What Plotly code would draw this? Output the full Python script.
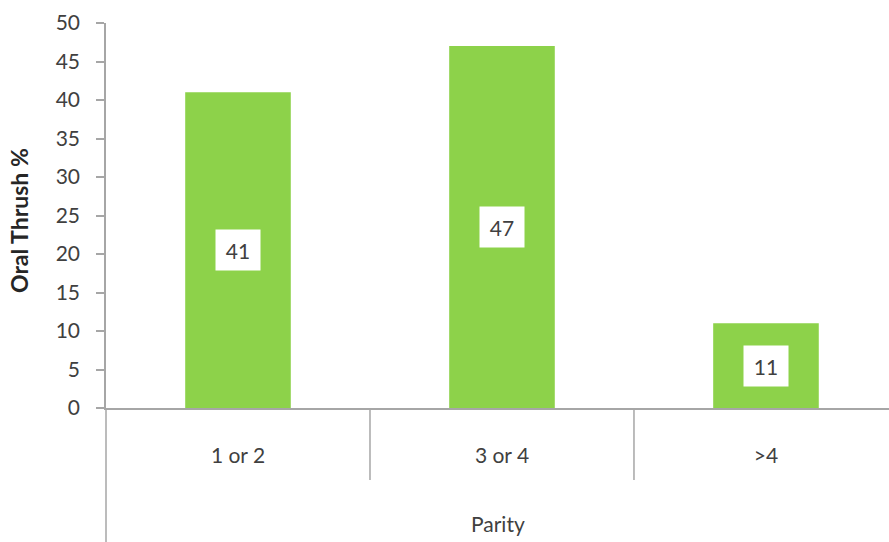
import plotly.graph_objects as go

categories = ["1 or 2", "3 or 4", ">4"]
values = [41, 47, 11]
y_ticks = [0, 5, 10, 15, 20, 25, 30, 35, 40, 45, 50]

W, H = 889, 542
L, R, T, B = 106, 0, 23, 134
plot_h = H - T - B

bar_color = "#8dd24a"
axis_color = "#a6a6a6"
font_family = "Lato, 'Open Sans', sans-serif"
text_color = "#404040"

fig = go.Figure()
fig.add_trace(go.Bar(
    x=categories, y=values, marker_color=bar_color, marker_line_width=0,
    width=0.4, showlegend=False, hoverinfo="skip",
))

# value labels in white boxes at bar mid-height
for c, v in zip(categories, values):
    fig.add_annotation(
        x=c, y=v / 2, xref="x", yref="y", text=str(v), showarrow=False,
        xanchor="center", yanchor="middle",
        bgcolor="white", width=44, height=40, borderpad=0,
        font=dict(family=font_family, size=21, color=text_color),
    )

# category dividers below the x-axis
for i in range(len(categories) - 1):
    fig.add_shape(
        type="line", xref="x", yref="paper", x0=i + 0.5, x1=i + 0.5,
        y0=0, y1=-72 / plot_h, line=dict(color=axis_color, width=1.5),
    )

# extension of the y-axis line to the bottom
fig.add_shape(
    type="line", xref="paper", yref="paper", x0=0, x1=0,
    y0=0, y1=-(H - T - plot_h) / plot_h - 0.01, line=dict(color=axis_color, width=1.5),
)

fig.add_annotation(
    xref="paper", yref="paper", x=(19 - L) / (W - L - R), y=(T + plot_h - 221) / plot_h,
    xanchor="center", yanchor="middle",
    text="<b>Oral Thrush %</b>", textangle=-90, showarrow=False,
    font=dict(family=font_family, size=23, color="#262626"),
)
fig.add_annotation(
    xref="paper", yref="paper", x=0.5, y=(T + plot_h - 523) / plot_h,
    xanchor="center", yanchor="middle",
    text="Parity", showarrow=False,
    font=dict(family=font_family, size=21, color=text_color),
)

fig.update_layout(
    width=W, height=H, margin=dict(l=L, r=R, t=T, b=B),
    plot_bgcolor="white", paper_bgcolor="white",
)
fig.update_xaxes(
    type="category", range=[-0.5, 2.466], showgrid=False, zeroline=False,
    showline=True, linecolor=axis_color, linewidth=1.5, ticks="",
    ticklabelstandoff=28,
    tickfont=dict(family=font_family, size=21, color=text_color),
)
fig.update_yaxes(
    range=[0, 50], tickvals=y_ticks, showgrid=False, zeroline=False,
    showline=True, linecolor=axis_color, linewidth=1.5,
    ticks="outside", ticklen=8, tickcolor=axis_color, tickwidth=1.5,
    ticklabelstandoff=12,
    tickfont=dict(family=font_family, size=21, color=text_color),
)

fig.write_html("out.html", config={"displayModeBar": False},
               post_script="document.body.style.margin='0';")
